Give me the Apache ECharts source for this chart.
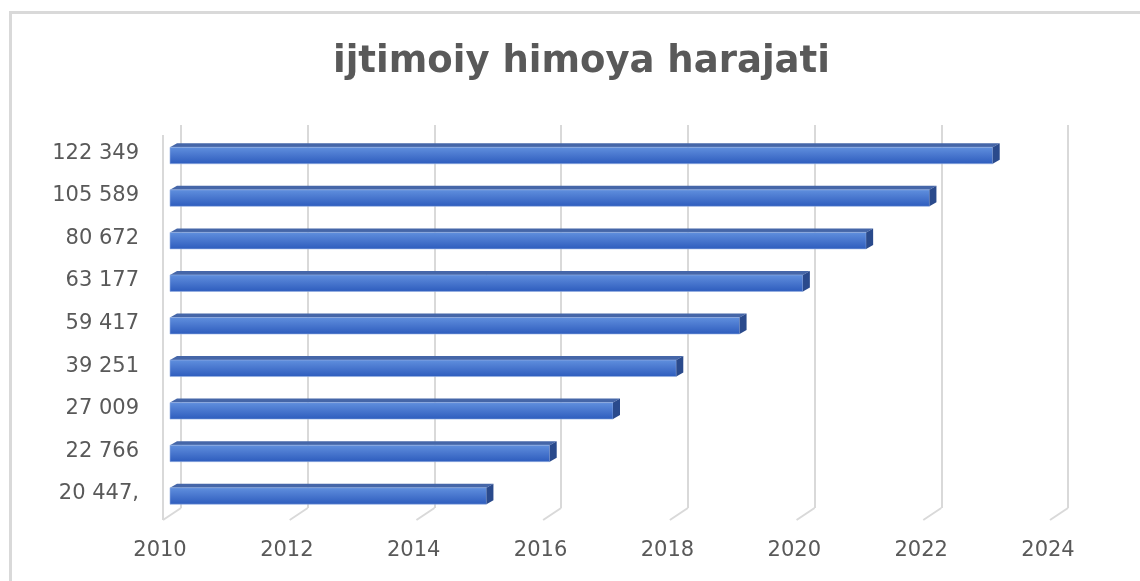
<!DOCTYPE html>
<html>
<head>
<meta charset="utf-8">
<title>ijtimoiy himoya harajati</title>
<script src="https://cdn.jsdelivr.net/npm/echarts@6/dist/echarts.min.js"></script>
<style>
  html, body { margin: 0; padding: 0; background: #fff; }
  #chart { width: 1140px; height: 581px; }
</style>
</head>
<body>
<div id="chart"></div>
<script>
// category labels (bottom to top), bar end years, axis ticks
const labels = ['20 447,', '22 766', '27 009', '39 251', '59 417', '63 177', '80 672', '105 589', '122 349']
const years = [2015, 2016, 2017, 2018, 2019, 2020, 2021, 2022, 2023]
const yearTicks = [2010, 2012, 2014, 2016, 2018, 2020, 2022, 2024]
const X_MIN = 2010
const X_MAX = 2024

const GRID_COLOR = '#d9d9d9'
const TEXT_COLOR = '#595959'
const FONT = 'DejaVu Sans'

let myChart = echarts.init(document.getElementById('chart'))

// pseudo 3d bar: front face + top face + right side
function renderBar (params, api) {
  let start = api.coord([X_MIN, api.value(1)])
  let end = api.coord([api.value(0), api.value(1)])
  let cy = end[1]
  let x0 = start[0]
  let x1 = end[0]
  let dx = 7
  let dy = 4
  let top = cy - 6
  let bottom = cy + 10.5
  return {
    type: 'group',
    children: [
      {
        type: 'polygon',
        shape: { points: [[x0, top], [x0 + dx, top - dy], [x1 + dx, top - dy], [x1, top]] },
        style: { fill: '#4566a8' }
      },
      {
        type: 'rect',
        shape: { x: x0, y: top, width: x1 - x0, height: bottom - top },
        style: {
          fill: new echarts.graphic.LinearGradient(0, 0, 0, 1, [
            { offset: 0, color: '#6090de' },
            { offset: 0.45, color: '#4a78cf' },
            { offset: 1, color: '#2d5cbd' }
          ]),
          stroke: '#96b0e2',
          lineWidth: 0.6
        }
      },
      {
        type: 'polygon',
        shape: { points: [[x1, top], [x1 + dx, top - dy], [x1 + dx, bottom - dy], [x1, bottom]] },
        style: { fill: '#2a4a8c' }
      }
    ]
  }
}

// floor lines going from the back wall to the front, plus the front left edge
function renderFloor (params, api) {
  let back = api.coord([api.value(0), 0])
  let backTop = api.coord([api.value(0), 1])
  let fx = back[0] - 18
  let fy = back[1] + 12
  let children = [{
    type: 'line',
    shape: { x1: back[0], y1: back[1], x2: fx, y2: fy },
    style: { stroke: GRID_COLOR, lineWidth: 2 }
  }]
  if (api.value(0) === X_MIN) {
    children.push({
      type: 'line',
      shape: { x1: fx, y1: fy, x2: fx, y2: backTop[1] + 10 },
      style: { stroke: GRID_COLOR, lineWidth: 2 }
    })
  }
  return { type: 'group', children: children }
}

myChart.setOption({
  animation: false,
  title: {
    text: 'ijtimoiy himoya harajati',
    left: 328,
    top: 39,
    textStyle: {
      color: TEXT_COLOR,
      fontFamily: FONT,
      fontWeight: 'bold',
      fontSize: 37
    }
  },
  graphic: [{
    type: 'rect',
    shape: { x: 10.5, y: 12.5, width: 1200, height: 700 },
    style: { fill: 'none', stroke: GRID_COLOR, lineWidth: 3 },
    silent: true
  }],
  grid: [
    { left: 170, right: 84, top: 132, bottom: 66 },
    { left: 181, right: 72, top: 125, bottom: 73 },
    { left: 160, right: 92, top: 125, bottom: 61 }
  ],
  xAxis: [
    { gridIndex: 0, type: 'value', min: X_MIN, max: X_MAX, interval: 2, show: false },
    {
      gridIndex: 1,
      type: 'value',
      min: X_MIN,
      max: X_MAX,
      interval: 2,
      axisLine: { show: false },
      axisTick: { show: false },
      axisLabel: { show: false },
      splitLine: { show: true, lineStyle: { color: GRID_COLOR, width: 2 } }
    },
    {
      gridIndex: 2,
      type: 'value',
      min: X_MIN,
      max: X_MAX,
      interval: 2,
      axisLine: { show: false },
      axisTick: { show: false },
      splitLine: { show: false },
      axisLabel: {
        color: TEXT_COLOR,
        fontFamily: FONT,
        fontSize: 21,
        margin: 20,
        showMinLabel: true,
        showMaxLabel: true,
        formatter: v => String(v)
      }
    }
  ],
  yAxis: [
    {
      gridIndex: 0,
      type: 'category',
      data: labels,
      axisLine: { show: false },
      axisTick: { show: false },
      splitLine: { show: false },
      axisLabel: {
        color: TEXT_COLOR,
        fontFamily: FONT,
        fontSize: 21,
        margin: 31
      }
    },
    { gridIndex: 1, type: 'value', min: 0, max: 1, show: false },
    { gridIndex: 2, type: 'value', min: 0, max: 1, show: false }
  ],
  series: [
    {
      type: 'custom',
      xAxisIndex: 1,
      yAxisIndex: 1,
      renderItem: renderFloor,
      data: yearTicks.map(v => [v, 0]),
      z: 1,
      silent: true
    },
    {
      type: 'custom',
      xAxisIndex: 0,
      yAxisIndex: 0,
      renderItem: renderBar,
      encode: { x: 0, y: 1 },
      data: years.map((v, i) => [v, i]),
      z: 3
    }
  ]
})
</script>
</body>
</html>
